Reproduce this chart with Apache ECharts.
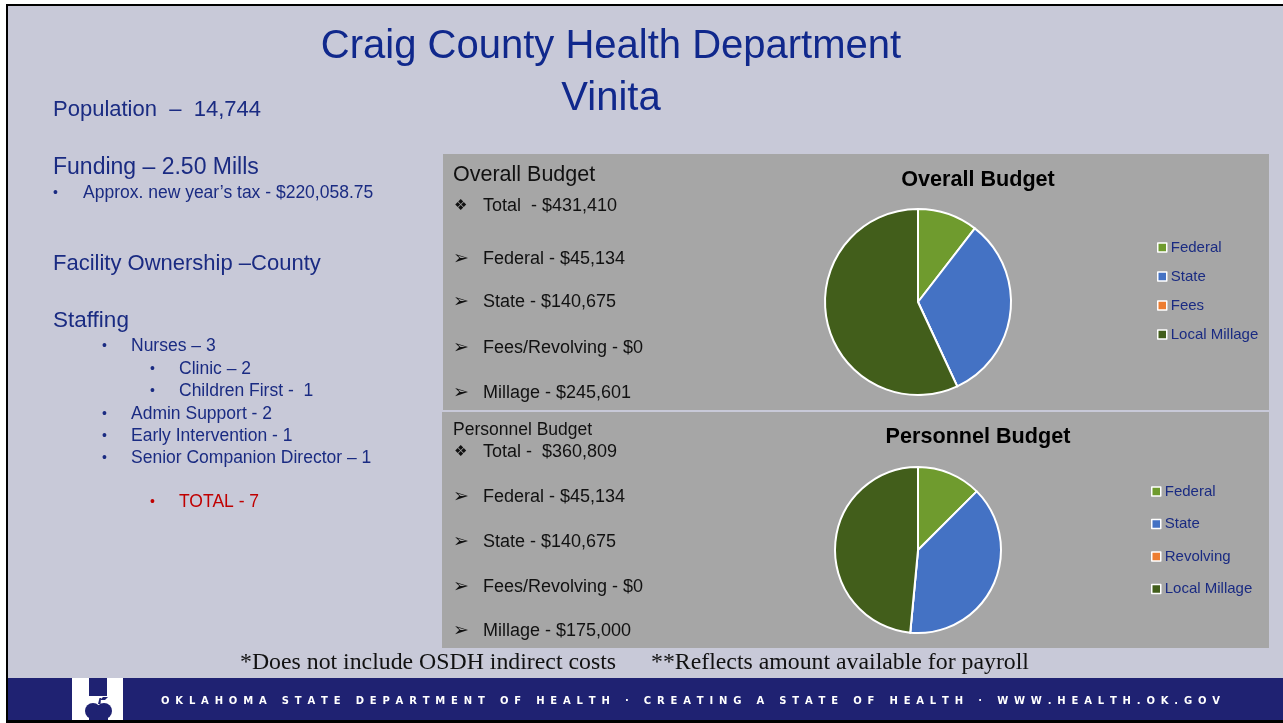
<!DOCTYPE html>
<html>
<head>
<meta charset="utf-8">
<title>Craig County Health Department</title>
<script src="https://cdn.jsdelivr.net/npm/echarts@6/dist/echarts.min.js"></script>
<style>
  html, body { margin: 0; padding: 0; background: #ffffff; }
  #main { width: 1283px; height: 723px; }
</style>
</head>
<body>
<div id="main"></div>
<script>
// pie data
const overallNames = ['Federal', 'State', 'Fees', 'Local Millage'];
const overallValues = [45134, 140675, 0, 245601];
const personnelNames = ['Federal', 'State', 'Revolving', 'Local Millage'];
const personnelValues = [45134, 140675, 0, 175000];
const sliceColors = ['#6F9B2E', '#4472C4', '#ED7D31', '#425E1B'];

// budget text lines next to the pies
const budgetLabels = ['Federal', 'State', 'Fees/Revolving', 'Millage'];
const overallTotal = 431410;
const personnelTotal = 360809;

const FONT = '"Liberation Sans", Arial, sans-serif';
const NAVY = '#1A2B82';
const money = v => '$' + v.toLocaleString('en-US');

const chart = echarts.init(document.getElementById('main'));

function txt(text, x, y, size, color, extra) {
  return {
    type: 'text', x: x, y: y, z: 10,
    style: Object.assign({
      text: text,
      font: size + 'px ' + FONT,
      fill: color,
      textAlign: 'left', align: 'left',
      textVerticalAlign: 'middle', verticalAlign: 'middle'
    }, extra || {})
  };
}
function rect(x, y, w, h, color, z) {
  return { type: 'rect', z: z || 0, shape: { x: x, y: y, width: w, height: h }, style: { fill: color } };
}

const els = [];
// frame, slide, panels
els.push(rect(6, 4, 1277, 719, '#000000', 0));
els.push(rect(8, 6, 1275, 714, '#C8C9D8', 1));
els.push(rect(443, 154, 826, 256, '#A6A6A6', 1));
els.push(rect(442, 412, 827, 236, '#A6A6A6', 1));

// title
els.push(txt('Craig County Health Department', 611, 47, 40, '#10288C', { textAlign: 'center', align: 'center' }));
els.push(txt('Vinita', 611, 99, 40, '#10288C', { textAlign: 'center', align: 'center' }));

// left column
els.push(txt('Population  \u2013  14,744', 53, 110, 22, NAVY));
els.push(txt('Funding \u2013 2.50 Mills', 53, 168, 23, NAVY));
els.push(txt('\u2022', 53, 193, 14, NAVY));
els.push(txt('Approx. new year\u2019s tax - $220,058.75', 83, 193, 17.5, NAVY));
els.push(txt('Facility Ownership \u2013County', 53, 264, 22, NAVY));
els.push(txt('Staffing', 53, 321, 22.5, NAVY));
const staffLines = [
  ['Nurses \u2013 3', 1, 346],
  ['Clinic \u2013 2', 2, 369],
  ['Children First -  1', 2, 391],
  ['Admin Support - 2', 1, 414],
  ['Early Intervention - 1', 1, 436],
  ['Senior Companion Director \u2013 1', 1, 458]
];
staffLines.forEach(function (s) {
  const bx = s[1] === 1 ? 102 : 150;
  els.push(txt('\u2022', bx, s[2], 14, NAVY));
  els.push(txt(s[0], bx + 29, s[2], 17.5, NAVY));
});
els.push(txt('\u2022', 150, 502, 14, '#C00000'));
els.push(txt('TOTAL - 7', 179, 502, 17.5, '#C00000'));

// panel text
const SYM = '"DejaVu Sans"';
els.push(txt('Overall Budget', 453, 175, 21.5, '#111111'));
els.push(txt('\u2756', 454, 206, 15, '#111111', { font: '15px ' + SYM }));
els.push(txt('Total  - ' + money(overallTotal), 483, 206, 18, '#111111'));
const ovY = [259, 302, 348, 393];
overallValues.forEach(function (v, i) {
  els.push(txt('\u27A2', 453, ovY[i], 19, '#111111', { font: '19px ' + SYM }));
  els.push(txt(budgetLabels[i] + ' - ' + money(v), 483, ovY[i], 18, '#111111'));
});
els.push(txt('Personnel Budget', 453, 430, 17.5, '#111111'));
els.push(txt('\u2756', 454, 452, 15, '#111111', { font: '15px ' + SYM }));
els.push(txt('Total -  ' + money(personnelTotal), 483, 452, 18, '#111111'));
const peY = [497, 542, 587, 631];
personnelValues.forEach(function (v, i) {
  els.push(txt('\u27A2', 453, peY[i], 19, '#111111', { font: '19px ' + SYM }));
  els.push(txt(budgetLabels[i] + ' - ' + money(v), 483, peY[i], 18, '#111111'));
});

// pie titles
els.push(txt('Overall Budget', 978, 180, 21.6, '#000000', { font: 'bold 21.6px ' + FONT, textAlign: 'center', align: 'center' }));
els.push(txt('Personnel Budget', 978, 437, 21.6, '#000000', { font: 'bold 21.6px ' + FONT, textAlign: 'center', align: 'center' }));

// notes
const serif = '"Liberation Serif", "Times New Roman", serif';
els.push(txt('*Does not include OSDH indirect costs', 240, 663, 23.8, '#111111', { font: '23.8px ' + serif }));
els.push(txt('**Reflects amount available for payroll', 651, 663, 23.8, '#111111', { font: '23.8px ' + serif }));

// footer band + logo
els.push(rect(8, 678, 1275, 42, '#1F2272', 2));
els.push(rect(72, 678, 51, 42, '#FFFFFF', 3));
els.push(rect(89, 678, 18, 18, '#1F2272', 4));
els.push({ type: 'circle', z: 4, shape: { cx: 93, cy: 711, r: 8 }, style: { fill: '#1F2272' } });
els.push({ type: 'circle', z: 4, shape: { cx: 104, cy: 711, r: 8 }, style: { fill: '#1F2272' } });
els.push(rect(89, 712, 19, 8, '#1F2272', 4));
els.push({ type: 'polygon', z: 4, shape: { points: [[98, 704], [99.5, 698], [101, 698], [100.5, 704]] }, style: { fill: '#1F2272' } });
els.push({ type: 'polygon', z: 4, shape: { points: [[100, 700], [103, 697], [108, 697], [105, 700]] }, style: { fill: '#1F2272' } });

// footer tracked text
const footer = 'OKLAHOMA STATE DEPARTMENT OF HEALTH \u00B7 CREATING A STATE OF HEALTH \u00B7 WWW.HEALTH.OK.GOV';
const footFont = 'bold 10px "DejaVu Sans"';
const ctx = document.createElement('canvas').getContext('2d');
ctx.font = footFont;
const chars = footer.split('');
const widths = chars.map(c => ctx.measureText(c).width);
const sumW = widths.reduce((a, b) => a + b, 0);
const track = (1220 - 161 - sumW) / (chars.length - 1);
let fx = 161;
chars.forEach(function (c, i) {
  if (c !== ' ') {
    els.push({ type: 'text', x: fx, y: 701, z: 5, style: { text: c, font: footFont, fill: '#FFFFFF', verticalAlign: 'middle', textVerticalAlign: 'middle' } });
  }
  fx += widths[i] + track;
});

const legendBase = {
  orient: 'vertical',
  icon: 'rect',
  itemWidth: 9,
  itemHeight: 9,
  selectedMode: false,
  itemStyle: { borderColor: '#FFFFFF', borderWidth: 1.5 },
  textStyle: { fontSize: 15, color: NAVY, fontFamily: FONT, padding: [0, 0, 0, -1] }
};

chart.setOption({
  animation: false,
  graphic: { elements: els },
  legend: [
    Object.assign({}, legendBase, { data: overallNames, left: 1152, top: 235, itemGap: 14 }),
    Object.assign({}, legendBase, { data: personnelNames, left: 1146, top: 479, itemGap: 17.5 })
  ],
  series: [
    {
      name: 'Overall Budget',
      type: 'pie',
      center: [918, 302],
      radius: 93,
      startAngle: 90,
      label: { show: false },
      labelLine: { show: false },
      emphasis: { disabled: true },
      itemStyle: { borderColor: '#FFFFFF', borderWidth: 2 },
      data: overallNames.map((n, i) => ({ name: n, value: overallValues[i], itemStyle: { color: sliceColors[i] } }))
    },
    {
      name: 'Personnel Budget',
      type: 'pie',
      center: [918, 550],
      radius: 83,
      startAngle: 90,
      label: { show: false },
      labelLine: { show: false },
      emphasis: { disabled: true },
      itemStyle: { borderColor: '#FFFFFF', borderWidth: 2 },
      data: personnelNames.map((n, i) => ({ name: n, value: personnelValues[i], itemStyle: { color: sliceColors[i] } }))
    }
  ]
});
</script>
</body>
</html>
